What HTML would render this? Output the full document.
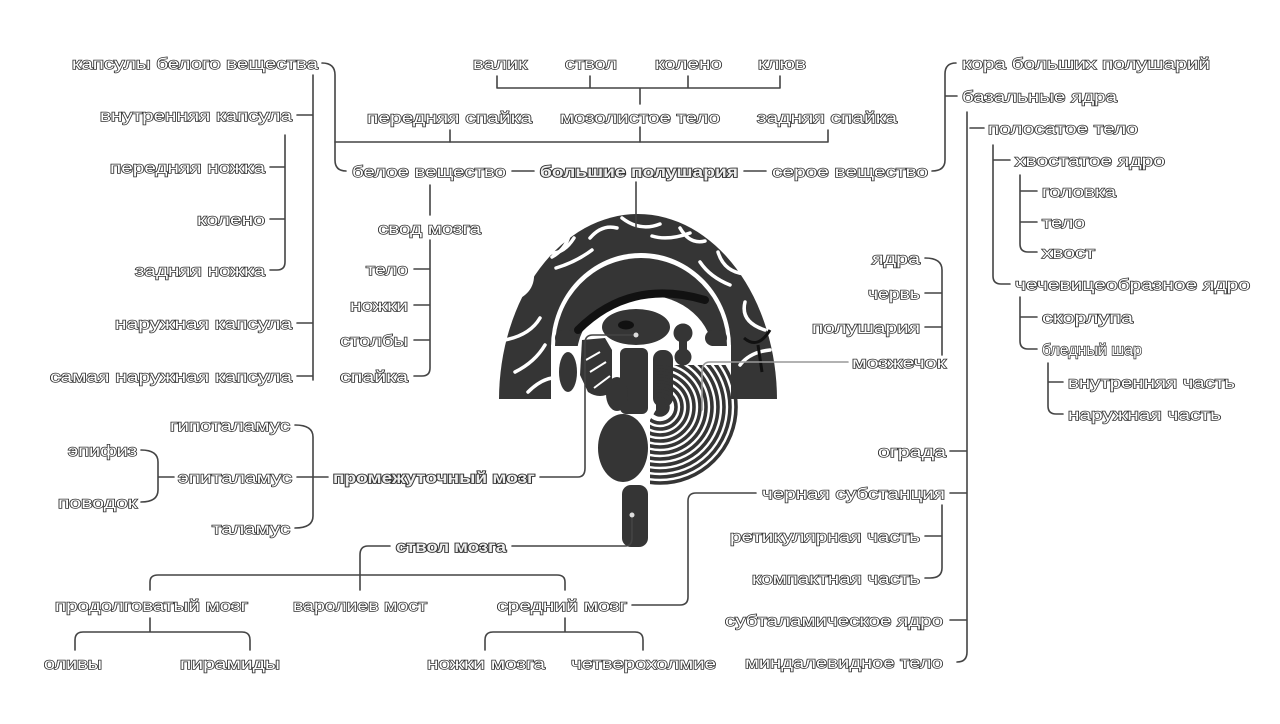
<!DOCTYPE html>
<html><head><meta charset="utf-8"><style>
html,body{margin:0;padding:0;background:#fff;width:1280px;height:724px;overflow:hidden}
svg{display:block}
text{font-family:"Liberation Sans","DejaVu Sans",sans-serif;font-size:16px;fill:#fff;stroke:#333;stroke-width:1.4px;paint-order:stroke}
text.b{font-weight:bold;stroke-width:1.8px;fill:#eee}
.l{fill:none;stroke:#444;stroke-width:1.6;stroke-linecap:round;stroke-linejoin:round}
.s{fill:none;stroke:#fff;stroke-width:3.5;stroke-linecap:round}
</style></head><body>
<svg width="1280" height="724" viewBox="0 0 1280 724">
<defs>
<clipPath id="top"><rect x="480" y="190" width="320" height="209"/></clipPath>
<clipPath id="top2"><rect x="540" y="240" width="200" height="106"/></clipPath>
<clipPath id="cb"><polygon points="656,365 745,365 748,420 700,490 650,490 650,420 656,410"/></clipPath>
</defs>
<!-- BRAIN -->
<g clip-path="url(#top)">
<ellipse cx="638" cy="400" rx="139" ry="186" fill="#353535"/>
<ellipse cx="641" cy="347" rx="90" ry="94" fill="#fff"/>
<rect x="551" y="345" width="180" height="60" fill="#fff"/>
</g>
<g clip-path="url(#top2)">
<ellipse cx="641" cy="347" rx="86" ry="89" fill="#353535"/>
<ellipse cx="645" cy="355" rx="68" ry="60" fill="#fff"/>
</g>
<rect x="555" y="330" width="22" height="16" rx="8" fill="#353535"/>
<rect x="705" y="330" width="22" height="16" rx="8" fill="#353535"/>
<path d="M578,330 Q630,278 705,300" fill="none" stroke="#111" stroke-width="8" stroke-linecap="round"/>
<!-- sulci -->
<g class="s">
<path d="M512,300 Q535,292 532,270"/><path d="M505,340 Q530,335 540,318"/><path d="M515,372 Q535,362 545,345"/>
<path d="M545,252 Q562,257 574,238"/><path d="M590,238 Q602,224 617,228"/><path d="M622,218 Q640,232 660,224"/>
<path d="M680,228 Q690,245 705,241"/><path d="M718,252 Q724,272 745,274"/><path d="M745,302 Q740,322 765,330"/>
<path d="M740,365 Q750,352 770,350"/><path d="M556,268 Q576,262 592,250"/><path d="M700,262 Q710,277 730,285"/>
<path d="M570,230 Q568,248 552,257"/><path d="M652,236 Q668,241 690,233"/><path d="M528,392 Q540,380 552,378"/>
</g>
<path d="M744,338 Q758,350 770,330 M758,345 L762,372" fill="none" stroke="#111" stroke-width="3"/>
<!-- thalamus -->
<ellipse cx="636" cy="327" rx="34" ry="18" fill="#353535"/>
<ellipse cx="626" cy="325" rx="8" ry="4.5" fill="#111"/>
<circle cx="683" cy="333" r="9.5" fill="#353535"/><circle cx="683" cy="357" r="8.5" fill="#353535"/>
<rect x="679" y="333" width="8" height="24" fill="#353535"/>
<rect x="653" y="350" width="20" height="57" rx="9" fill="#353535"/>
<!-- left structures -->
<ellipse cx="568" cy="372" rx="9" ry="20" fill="#353535"/>
<path d="M582,340 L605,338 L612,350 L612,392 Q600,400 588,392 L580,375 Z" fill="#353535"/>
<path d="M586,360 L600,352 M590,372 L606,362 M594,388 L610,376" stroke="#fff" stroke-width="2"/>
<!-- cerebellum rings -->
<g clip-path="url(#cb)" fill="none" stroke="#353535" stroke-width="3.6">
<circle cx="660" cy="407" r="8" fill="#353535"/>
<circle cx="660" cy="407" r="16"/><circle cx="660" cy="407" r="22"/><circle cx="660" cy="407" r="28"/>
<circle cx="660" cy="407" r="34"/><circle cx="660" cy="407" r="40"/><circle cx="660" cy="407" r="46"/>
<circle cx="660" cy="407" r="52"/><circle cx="660" cy="407" r="58"/><circle cx="660" cy="407" r="64"/>
<circle cx="660" cy="407" r="70"/><circle cx="660" cy="407" r="76"/>
</g>
<!-- brainstem -->
<rect x="620" y="348" width="28" height="66" rx="6" fill="#353535"/>
<ellipse cx="617" cy="394" rx="11" ry="17" fill="#353535"/>
<ellipse cx="623" cy="448" rx="25" ry="34" fill="#353535"/>
<rect x="622" y="485" width="26" height="62" rx="9" fill="#353535"/>
<!-- LINES -->
<g class="l">
<path d="M322,63 Q335,63 335,75 L335,160 Q335,171 346,171"/>
<path d="M335,142 L828,142 Q828,136 828,130"/>
<path d="M450,142 L450,130 M640,142 L640,127"/>
<path d="M497,76 L497,88 L780,88 L780,76 M590,76 L590,88 M688,76 L688,88 M640,88 L640,104"/>
<path d="M313,75 L313,380 M297,115 L313,115 M297,323 L313,323 M297,376 L313,376"/>
<path d="M285,135 L285,262 Q285,270 277,270 L270,270 M270,167 L285,167 M270,219 L285,219"/>
<path d="M512,171 L534,171 M744,171 L766,171"/>
<path d="M636,182 L636,228"/>
<path d="M932,171 Q945,171 945,160 L945,74 Q945,63 956,63 M945,96 L957,96"/>
<path d="M967,112 L967,652 Q967,662 957,662 M950,451 L967,451 M950,493 L967,493 M950,620 L967,620 M970,128 L984,128"/>
<path d="M993,145 L993,276 Q993,284 1001,284 L1010,284 M993,160 L1010,160"/>
<path d="M1020,175 L1020,244 Q1020,252 1028,252 L1037,252 M1020,191 L1037,191 M1020,222 L1037,222"/>
<path d="M1020,297 L1020,341 Q1020,349 1028,349 L1037,349 M1020,317 L1037,317"/>
<path d="M1048,363 L1048,406 Q1048,414 1056,414 L1063,414 M1048,382 L1063,382"/>
<path d="M430,185 L430,215 M430,240 L430,368 Q430,376 422,376 L414,376 M414,269 L430,269 M414,305 L430,305 M414,340 L430,340"/>
<path d="M925,258 Q942,258 942,270 L942,355 M925,293 L942,293 M925,327 L942,327"/>
<path d="M848,362 L710,362 Q702,362 702,372 L702,410" stroke="#999"/>
<path d="M295,425 Q313,425 313,437 L313,516 Q313,528 295,528 M297,477 L328,477"/>
<path d="M141,450 Q158,450 158,462 L158,490 Q158,502 141,502 M158,477 L174,477"/>
<path d="M540,477 L578,477 Q585,477 585,468 L585,343 Q585,335 593,335 L636,335"/>
<path d="M512,546 L625,546 Q632,546 632,538 L632,515"/>
<path d="M390,546 L368,546 Q360,546 360,555 L360,590 M150,590 L150,582 Q150,575 158,575 L557,575 Q565,575 565,582 L565,590"/>
<path d="M150,618 L150,632 M75,650 L75,640 Q75,632 83,632 L242,632 Q250,632 250,640 L250,650"/>
<path d="M565,618 L565,632 M485,650 L485,640 Q485,632 493,632 L635,632 Q643,632 643,640 L643,650"/>
<path d="M632,605 L680,605 Q688,605 688,597 L688,501 Q688,493 696,493 L756,493"/>
<path d="M925,536 L942,536 M942,505 L942,568 Q942,578 930,578 M925,578 L930,578"/>
</g>
<circle cx="636" cy="335" r="2.5" fill="#ddd"/><circle cx="632" cy="515" r="2.5" fill="#ddd"/>
<!-- TEXT -->
<g>
<text x="72" y="69" textLength="246" lengthAdjust="spacingAndGlyphs">капсулы белого вещества</text>
<text x="100" y="121" textLength="192" lengthAdjust="spacingAndGlyphs">внутренняя капсула</text>
<text x="110" y="173" textLength="155" lengthAdjust="spacingAndGlyphs">передняя ножка</text>
<text x="197" y="225" textLength="68" lengthAdjust="spacingAndGlyphs">колено</text>
<text x="135" y="276" textLength="130" lengthAdjust="spacingAndGlyphs">задняя ножка</text>
<text x="115" y="329" textLength="177" lengthAdjust="spacingAndGlyphs">наружная капсула</text>
<text x="50" y="382" textLength="242" lengthAdjust="spacingAndGlyphs">самая наружная капсула</text>
<text x="473" y="69" textLength="54" lengthAdjust="spacingAndGlyphs">валик</text>
<text x="565" y="69" textLength="52" lengthAdjust="spacingAndGlyphs">ствол</text>
<text x="655" y="69" textLength="67" lengthAdjust="spacingAndGlyphs">колено</text>
<text x="758" y="69" textLength="48" lengthAdjust="spacingAndGlyphs">клюв</text>
<text x="367" y="123" textLength="165" lengthAdjust="spacingAndGlyphs">передняя спайка</text>
<text x="560" y="123" textLength="160" lengthAdjust="spacingAndGlyphs">мозолистое тело</text>
<text x="757" y="123" textLength="140" lengthAdjust="spacingAndGlyphs">задняя спайка</text>
<text x="352" y="177" textLength="154" lengthAdjust="spacingAndGlyphs">белое вещество</text>
<text class="b" x="540" y="177" textLength="198" lengthAdjust="spacingAndGlyphs">большие полушария</text>
<text x="772" y="177" textLength="156" lengthAdjust="spacingAndGlyphs">серое вещество</text>
<text x="962" y="69" textLength="248" lengthAdjust="spacingAndGlyphs">кора больших полушарий</text>
<text x="962" y="102" textLength="155" lengthAdjust="spacingAndGlyphs">базальные ядра</text>
<text x="988" y="134" textLength="150" lengthAdjust="spacingAndGlyphs">полосатое тело</text>
<text x="1015" y="166" textLength="150" lengthAdjust="spacingAndGlyphs">хвостатое ядро</text>
<text x="1042" y="197" textLength="74" lengthAdjust="spacingAndGlyphs">головка</text>
<text x="1042" y="228" textLength="43" lengthAdjust="spacingAndGlyphs">тело</text>
<text x="1042" y="258" textLength="53" lengthAdjust="spacingAndGlyphs">хвост</text>
<text x="1015" y="290" textLength="235" lengthAdjust="spacingAndGlyphs">чечевицеобразное ядро</text>
<text x="1042" y="323" textLength="91" lengthAdjust="spacingAndGlyphs">скорлупа</text>
<text x="1042" y="355" textLength="100" lengthAdjust="spacingAndGlyphs">бледный шар</text>
<text x="1068" y="388" textLength="167" lengthAdjust="spacingAndGlyphs">внутренняя часть</text>
<text x="1068" y="420" textLength="153" lengthAdjust="spacingAndGlyphs">наружная часть</text>
<text x="378" y="234" textLength="103" lengthAdjust="spacingAndGlyphs">свод мозга</text>
<text x="366" y="275" textLength="42" lengthAdjust="spacingAndGlyphs">тело</text>
<text x="350" y="311" textLength="58" lengthAdjust="spacingAndGlyphs">ножки</text>
<text x="340" y="346" textLength="68" lengthAdjust="spacingAndGlyphs">столбы</text>
<text x="340" y="382" textLength="68" lengthAdjust="spacingAndGlyphs">спайка</text>
<text x="872" y="264" textLength="48" lengthAdjust="spacingAndGlyphs">ядра</text>
<text x="868" y="299" textLength="52" lengthAdjust="spacingAndGlyphs">червь</text>
<text x="812" y="333" textLength="108" lengthAdjust="spacingAndGlyphs">полушария</text>
<text x="852" y="368" textLength="94" lengthAdjust="spacingAndGlyphs">мозжечок</text>
<text x="170" y="431" textLength="120" lengthAdjust="spacingAndGlyphs">гипоталамус</text>
<text x="178" y="483" textLength="114" lengthAdjust="spacingAndGlyphs">эпиталамус</text>
<text x="212" y="534" textLength="78" lengthAdjust="spacingAndGlyphs">таламус</text>
<text x="68" y="456" textLength="69" lengthAdjust="spacingAndGlyphs">эпифиз</text>
<text x="58" y="508" textLength="79" lengthAdjust="spacingAndGlyphs">поводок</text>
<text class="b" x="333" y="483" textLength="202" lengthAdjust="spacingAndGlyphs">промежуточный мозг</text>
<text x="878" y="457" textLength="68" lengthAdjust="spacingAndGlyphs">ограда</text>
<text x="762" y="499" textLength="183" lengthAdjust="spacingAndGlyphs">черная субстанция</text>
<text x="730" y="542" textLength="190" lengthAdjust="spacingAndGlyphs">ретикулярная часть</text>
<text x="752" y="584" textLength="168" lengthAdjust="spacingAndGlyphs">компактная часть</text>
<text x="725" y="626" textLength="218" lengthAdjust="spacingAndGlyphs">субталамическое ядро</text>
<text x="745" y="668" textLength="198" lengthAdjust="spacingAndGlyphs">миндалевидное тело</text>
<text class="b" x="396" y="552" textLength="110" lengthAdjust="spacingAndGlyphs">ствол мозга</text>
<text x="55" y="611" textLength="193" lengthAdjust="spacingAndGlyphs">продолговатый мозг</text>
<text x="293" y="611" textLength="134" lengthAdjust="spacingAndGlyphs">варолиев мост</text>
<text x="497" y="611" textLength="130" lengthAdjust="spacingAndGlyphs">средний мозг</text>
<text x="44" y="669" textLength="58" lengthAdjust="spacingAndGlyphs">оливы</text>
<text x="180" y="669" textLength="100" lengthAdjust="spacingAndGlyphs">пирамиды</text>
<text x="427" y="669" textLength="118" lengthAdjust="spacingAndGlyphs">ножки мозга</text>
<text x="571" y="669" textLength="145" lengthAdjust="spacingAndGlyphs">четверохолмие</text>
</g>
</svg>
</body></html>
